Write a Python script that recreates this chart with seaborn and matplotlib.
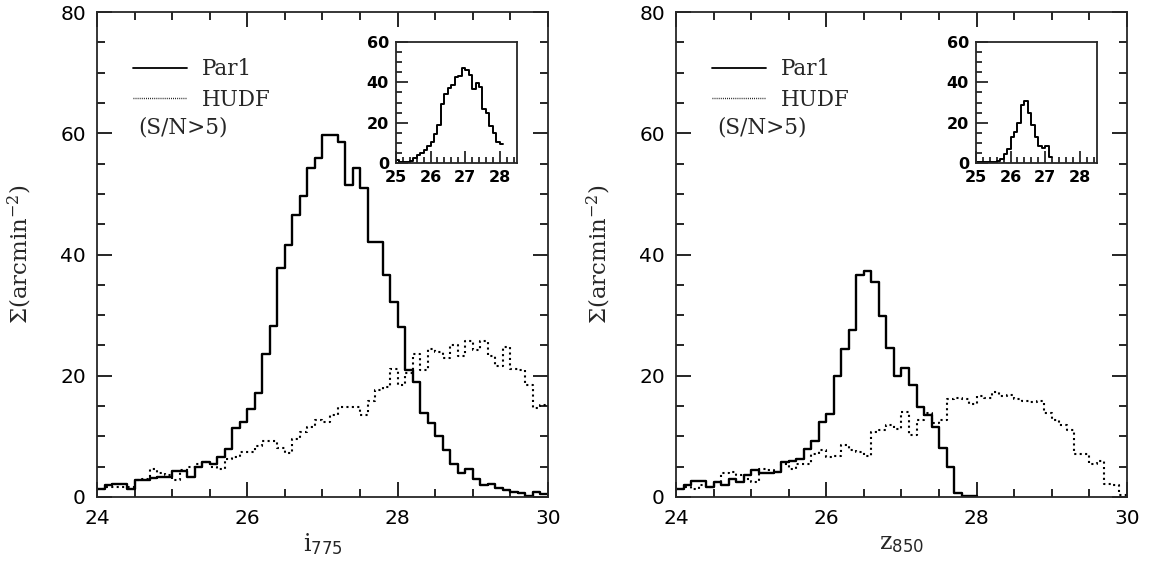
import numpy as np
import pandas as pd
import matplotlib
matplotlib.use("Agg")
import matplotlib.pyplot as plt
import seaborn as sns
from matplotlib.lines import Line2D
from matplotlib.ticker import MultipleLocator

# ---------------- data (surface density per 0.1 mag bin) ----------------
BIN_WIDTH = 0.1
MAIN_START = 24.0
INSET_START = 25.0

i775_par1 = [1.3, 2.0, 2.1, 2.1, 1.4, 2.8, 2.8, 3.2, 3.35, 3.35,
             4.3, 4.3, 3.35, 4.9, 5.7, 5.4, 6.6, 8.0, 11.4, 12.4,
             14.5, 17.1, 23.6, 28.2, 37.7, 41.6, 46.5, 49.6, 54.2, 55.9,
             59.7, 59.7, 58.6, 51.5, 54.2, 50.9, 42.1, 42.1, 36.6, 32.2,
             28.0, 21.0, 18.9, 13.8, 12.2, 10.0, 7.8, 5.4, 4.0, 4.7,
             3.0, 1.9, 2.1, 1.5, 1.2, 0.9, 0.7, 0.2, 0.9, 0.5]
i775_hudf = [1.4, 1.7, 1.7, 1.7, 1.7, 2.8, 2.9, 4.6, 3.9, 3.6,
             2.8, 4.5, 4.9, 5.4, 5.7, 5.0, 4.7, 6.2, 6.6, 7.4,
             7.5, 8.4, 9.2, 9.3, 8.1, 7.3, 9.6, 10.8, 11.6, 12.7,
             12.3, 13.6, 14.9, 14.9, 14.8, 13.6, 15.9, 17.7, 18.2, 21.1,
             18.4, 20.4, 23.6, 21.0, 24.4, 24.0, 22.9, 25.1, 23.3, 25.7,
             24.3, 25.7, 23.3, 21.6, 24.7, 21.1, 21.0, 18.5, 14.7, 15.1]
z850_par1 = [1.3, 1.9, 2.6, 2.7, 1.6, 2.5, 2.0, 3.0, 2.4, 3.7,
             4.4, 4.0, 4.0, 4.1, 5.7, 5.9, 6.3, 8.0, 9.3, 12.4,
             13.7, 20.0, 24.4, 27.6, 36.6, 37.3, 35.4, 29.8, 24.5, 19.9,
             21.2, 18.5, 14.9, 13.6, 11.6, 8.1, 4.9, 0.7, 0.2, 0.15]
z850_hudf = [1.3, 1.6, 1.3, 2.0, 1.6, 2.4, 3.9, 4.2, 3.6, 2.9,
             2.5, 4.7, 4.5, 4.2, 5.4, 4.6, 5.4, 5.4, 7.1, 7.8,
             6.6, 6.8, 8.5, 7.8, 7.4, 6.7, 10.7, 11.0, 11.9, 11.2,
             14.1, 10.3, 12.7, 13.8, 12.2, 12.7, 16.2, 16.3, 16.2, 15.4,
             16.6, 16.3, 17.4, 16.6, 16.9, 16.2, 15.9, 15.6, 15.8, 13.8,
             12.7, 11.9, 11.1, 7.1, 7.1, 5.4, 5.9, 2.1, 2.0, 0.4]
i775_inset = [1.5, 0.3, 0.3, 0.5, 1.0, 2.3, 4.0, 4.8, 6.5, 8.5,
              10.5, 14.6, 19.0, 29.5, 34.0, 37.0, 38.5, 42.5, 43.2, 47.0,
              46.0, 43.6, 36.5, 39.8, 37.5, 27.0, 24.6, 18.3, 14.7, 10.6,
              9.4]
z850_inset = [0.3, 0.3, 0.3, 0.3, 0.3, 0.5, 0.8, 2.0, 4.4, 6.7,
              13.0, 15.6, 19.7, 28.8, 30.9, 24.8, 18.8, 13.0, 8.6, 7.2,
              8.4, 3.0]

series_labels = ["Par1", "HUDF"]
note_text = "(S/N>5)"
xlabels = [r"$\mathrm{i}_{\mathsf{775}}$", r"$\mathrm{z}_{\mathsf{850}}$"]
ylabel = r"$\Sigma(\mathrm{arcmin}^{-2})$"


def hist_frame(values, start):
    values = np.asarray(values, dtype=float)
    edges = start + BIN_WIDTH * np.arange(len(values) + 1)
    centers = edges[:-1] + BIN_WIDTH / 2
    return pd.DataFrame({"mag": centers, "sigma": values}), [float(e) for e in edges]


# ---------------- style ----------------
sns.set_style("ticks")
plt.rcParams["font.family"] = ["DejaVu Sans"]
plt.rcParams["mathtext.fontset"] = "dejavuserif"
plt.rcParams["axes.linewidth"] = 1.3

SERIF = ["DejaVu Serif"]

fig = plt.figure(figsize=(11.51, 5.69), dpi=100)

W, H = 1151.0, 569.0
main_boxes = [(97, 12, 548, 497), (676, 12, 1127, 497)]
inset_boxes = [(396, 42, 517, 163), (976, 42, 1097, 163)]

panels = [
    (i775_par1, i775_hudf, i775_inset, xlabels[0]),
    (z850_par1, z850_hudf, z850_inset, xlabels[1]),
]

for (par1, hudf, inset_vals, xl), mb, ib in zip(panels, main_boxes, inset_boxes):
    x0, y0, x1, y1 = mb
    ax = fig.add_axes([x0 / W, 1 - y1 / H, (x1 - x0) / W, (y1 - y0) / H])

    df_h, e_h = hist_frame(hudf, MAIN_START)
    sns.histplot(data=df_h, x="mag", weights="sigma", bins=e_h, element="step",
                 fill=False, color="black", linewidth=1.5,
                 linestyle=(0, (1, 1.6)), ax=ax)
    df_p, e_p = hist_frame(par1, MAIN_START)
    sns.histplot(data=df_p, x="mag", weights="sigma", bins=e_p, element="step",
                 fill=False, color="black", linewidth=1.7, ax=ax)

    ax.set_xlim(24, 30)
    ax.set_ylim(0, 80)
    ax.xaxis.set_major_locator(MultipleLocator(2))
    ax.xaxis.set_minor_locator(MultipleLocator(0.5))
    ax.yaxis.set_major_locator(MultipleLocator(20))
    ax.yaxis.set_minor_locator(MultipleLocator(5))
    ax.tick_params(which="both", direction="in", top=True, right=True,
                   width=1.2, colors="black")
    ax.tick_params(which="major", length=11)
    ax.tick_params(which="minor", length=5.5)
    ax.tick_params(axis="x", which="major", labelsize=14.5, pad=9)
    ax.tick_params(axis="y", which="major", labelsize=14.5, pad=8)

    ax.set_xlabel(xl, fontsize=17)
    ax.xaxis.set_label_coords(0.5, -0.07)
    ax.set_ylabel(ylabel, fontsize=16.5)
    ax.yaxis.set_label_coords(-0.14, 0.5)

    handles = [Line2D([], [], color="black", lw=1.3),
               Line2D([], [], color="black", lw=1.0, linestyle=(0, (0.6, 0.9)))]
    ax.legend(handles, series_labels, loc="upper left",
              bbox_to_anchor=(0.08, 0.905), frameon=False,
              prop={"family": SERIF, "size": 15.5}, handlelength=2.5,
              handletextpad=0.7, labelspacing=0.4, borderaxespad=0,
              borderpad=0)
    ax.text(0.092, 0.75, note_text, transform=ax.transAxes, fontsize=15.5,
            family=SERIF, va="baseline", ha="left")

    # inset
    ix0, iy0, ix1, iy1 = ib
    axi = fig.add_axes([ix0 / W, 1 - iy1 / H, (ix1 - ix0) / W, (iy1 - iy0) / H])
    df_i, e_i = hist_frame(inset_vals, INSET_START)
    sns.histplot(data=df_i, x="mag", weights="sigma", bins=e_i, element="step",
                 fill=False, color="black", linewidth=1.4, ax=axi)
    axi.set_xlim(25, 28.5)
    axi.set_ylim(0, 60)
    axi.xaxis.set_major_locator(MultipleLocator(1))
    axi.xaxis.set_minor_locator(MultipleLocator(0.2))
    axi.yaxis.set_major_locator(MultipleLocator(20))
    axi.yaxis.set_minor_locator(MultipleLocator(5))
    axi.tick_params(which="both", direction="in", top=False, right=False,
                    width=1.1, colors="black", labelsize=11.5)
    axi.tick_params(which="major", length=8.5, pad=5)
    axi.tick_params(which="minor", length=4.5)
    for lab in axi.get_xticklabels() + axi.get_yticklabels():
        lab.set_fontweight("bold")
    axi.set_xlabel("")
    axi.set_ylabel("")

fig.savefig("out.png", dpi=100)
